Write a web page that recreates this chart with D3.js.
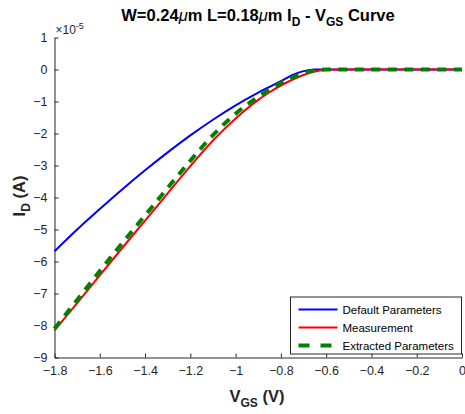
<!DOCTYPE html>
<html>
<head>
<meta charset="utf-8">
<script src="https://cdn.jsdelivr.net/npm/d3@7"></script>
<style>
  body { margin: 0; background: #fff; }
  text { font-family: "Liberation Sans", Arial, Helvetica, sans-serif; }
</style>
</head>
<body>
<div id="chart"></div>
<script>
// gate voltage samples (V)
var vgs = [-1.8, -1.7, -1.6, -1.5, -1.4, -1.3, -1.2, -1.1, -1.0, -0.9, -0.85, -0.8, -0.75, -0.7, -0.65, -0.6, -0.5, -0.4, -0.3, -0.2, -0.1, 0]
// drain current, in units of 1e-5 A
var defaultParams = [-5.68, -5.0, -4.36, -3.74, -3.15, -2.59, -2.06, -1.57, -1.12, -0.72, -0.54, -0.36, -0.18, -0.05, 0, 0, 0, 0, 0, 0, 0, 0]
var measurement = [-8.15, -7.3, -6.43, -5.57, -4.72, -3.87, -3.02, -2.22, -1.53, -0.95, -0.71, -0.5, -0.32, -0.17, -0.06, -0.01, 0, 0, 0, 0, 0, 0]
var extracted = [-8.1, -7.2, -6.3, -5.42, -4.56, -3.7, -2.85, -2.05, -1.38, -0.85, -0.62, -0.42, -0.25, -0.12, -0.03, 0, 0, 0, 0, 0, 0, 0]

var xTicks = [-1.8, -1.6, -1.4, -1.2, -1, -0.8, -0.6, -0.4, -0.2, 0]
var yTicks = [1, 0, -1, -2, -3, -4, -5, -6, -7, -8, -9]
var seriesNames = ["Default Parameters", "Measurement", "Extracted Parameters"]

var width = 465
var height = 414
var margin = { left: 54.5, right: 3, top: 37.5, bottom: 56.5 }
var axisColor = "#262626"

var svg = d3.select("#chart")
    .append("svg")
    .attr("width", width)
    .attr("height", height)

var x = d3.scaleLinear().domain([-1.8, 0]).range([margin.left, width - margin.right])
var y = d3.scaleLinear().domain([-9, 1]).range([height - margin.bottom, margin.top])

// axes, ticks pointing inward like matlab
var xAxis = svg.append("g")
    .attr("transform", "translate(0," + y(-9) + ")")
    .call(d3.axisBottom(x).tickValues(xTicks).tickSizeInner(-4).tickSizeOuter(0).tickPadding(9)
        .tickFormat(function (d) { return d3.format("")(d) }))
var yAxis = svg.append("g")
    .attr("transform", "translate(" + x(-1.8) + ",0)")
    .call(d3.axisLeft(y).tickValues(yTicks).tickSizeInner(-4).tickSizeOuter(0).tickPadding(7))

svg.selectAll(".domain, .tick line").attr("stroke", axisColor)
svg.selectAll(".tick text")
    .attr("fill", axisColor)
    .style("font-size", "12.5px")
    .style("font-family", "'Liberation Sans', Arial, sans-serif")

// exponent label
var expo = svg.append("text")
    .attr("x", x(-1.8) + 1)
    .attr("y", y(1) - 4)
    .attr("fill", axisColor)
    .style("font-size", "12px")
expo.append("tspan").text("\u00d710")
expo.append("tspan").attr("dy", -5).style("font-size", "9px").text("-5")

// curves
var line = d3.line()
    .x(function (d) { return x(d[0]) })
    .y(function (d) { return y(d[1]) })
    .curve(d3.curveMonotoneX)

function drawSeries(values, color, w, dash) {
    var pts = vgs.map(function (v, i) { return [v, values[i]] })
    svg.append("path")
        .datum(pts)
        .attr("d", line)
        .attr("fill", "none")
        .attr("stroke", color)
        .attr("stroke-width", w)
        .attr("stroke-dasharray", dash)
}
drawSeries(defaultParams, "#0000ff", 2, null)
drawSeries(measurement, "#ff0000", 2, null)
drawSeries(extracted, "#008000", 4, "9,7.5")

// title
var title = svg.append("text")
    .attr("x", 258)
    .attr("y", 21)
    .attr("text-anchor", "middle")
    .attr("fill", "#000")
    .style("font-size", "16.5px")
    .style("font-weight", "bold")
title.append("tspan").text("W=0.24")
title.append("tspan").style("font-style", "italic").style("font-weight", "normal").text("\u03bc")
title.append("tspan").text("m L=0.18")
title.append("tspan").style("font-style", "italic").style("font-weight", "normal").text("\u03bc")
title.append("tspan").text("m I")
title.append("tspan").attr("dy", 5).style("font-size", "12px").text("D")
title.append("tspan").attr("dy", -5).text(" - V")
title.append("tspan").attr("dy", 5).style("font-size", "12px").text("GS")
title.append("tspan").attr("dy", -5).text(" Curve")

// x label
var xl = svg.append("text")
    .attr("x", 257)
    .attr("y", 402)
    .attr("text-anchor", "middle")
    .attr("fill", axisColor)
    .style("font-size", "16.5px")
    .style("font-weight", "bold")
xl.append("tspan").text("V")
xl.append("tspan").attr("dy", 5).style("font-size", "12px").text("GS")
xl.append("tspan").attr("dy", -5).text(" (V)")

// y label
var yl = svg.append("text")
    .attr("transform", "translate(25,196) rotate(-90)")
    .attr("text-anchor", "middle")
    .attr("fill", axisColor)
    .style("font-size", "16.5px")
    .style("font-weight", "bold")
yl.append("tspan").text("I")
yl.append("tspan").attr("dy", 5).style("font-size", "12px").text("D")
yl.append("tspan").attr("dy", -5).text(" (A)")

// legend
var legend = svg.append("g").attr("transform", "translate(290.5,297)")
legend.append("rect")
    .attr("width", 171)
    .attr("height", 57)
    .attr("fill", "#fff")
    .attr("stroke", axisColor)
    .attr("stroke-width", 1)
var legendColors = ["#0000ff", "#ff0000", "#008000"]
seriesNames.forEach(function (name, i) {
    var ly = 12.5 + i * 18
    legend.append("line")
        .attr("x1", 8).attr("x2", 47)
        .attr("y1", ly).attr("y2", ly)
        .attr("stroke", legendColors[i])
        .attr("stroke-width", i == 2 ? 4 : 2)
        .attr("stroke-dasharray", i == 2 ? "11,11" : null)
    legend.append("text")
        .attr("x", 52)
        .attr("y", ly + 4)
        .attr("fill", "#000")
        .style("font-size", "11.5px")
        .text(name)
})
</script>
</body>
</html>
